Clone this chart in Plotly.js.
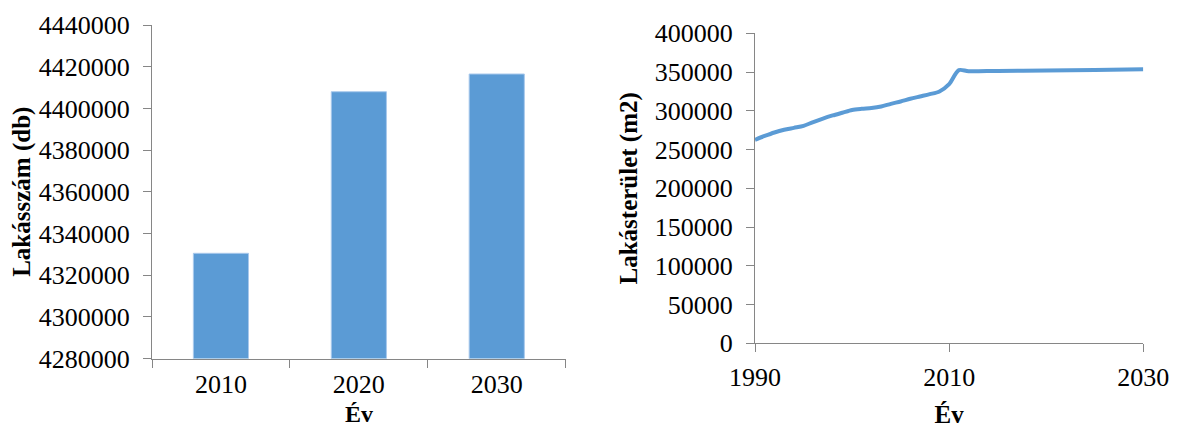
<!DOCTYPE html>
<html>
<head>
<meta charset="utf-8">
<script src="https://cdn.plot.ly/plotly-3.0.1.min.js"></script>
<style>html,body{margin:0;padding:0;background:#fff;}#chart{width:1178px;height:428px;}</style>
</head>
<body>
<div id="chart"></div>
<script>
// Left chart: number of dwellings
const barYears = ['2010', '2020', '2030'];
const barValues = [4330500, 4408000, 4416500];

// Right chart: dwelling floor area
const lineYears = [1990, 1991, 1992, 1993, 1994, 1995, 1996, 1997, 1998, 1999,
                   2000, 2001, 2002, 2003, 2004, 2005, 2006, 2007, 2008, 2009,
                   2010, 2011, 2012, 2015, 2020, 2025, 2030];
const lineValues = [262500, 267500, 272000, 275500, 278000, 280500, 285500, 290000, 294000, 297500,
                    301000, 302500, 303500, 305500, 309000, 312000, 315500, 318500, 321500, 325000,
                    334500, 352500, 351000, 351500, 352000, 352800, 353500];

const leftYTicks = [4280000, 4300000, 4320000, 4340000, 4360000, 4380000, 4400000, 4420000, 4440000];
const rightYTicks = [0, 50000, 100000, 150000, 200000, 250000, 300000, 350000, 400000];
const rightXTicks = [1990, 2010, 2030];

const leftXTitle = 'Év';
const leftYTitle = 'Lakásszám (db)';
const rightXTitle = 'Év';
const rightYTitle = 'Lakásterület (m2)';

const blue = '#5B9BD5';
const axisGrey = '#868686';
const serif = '"Liberation Serif", "Times New Roman", serif';
const tickFont = {family: serif, size: 26, color: '#000'};
const titleFont = {family: serif, size: 25, color: '#000', weight: 'bold'};

const traces = [
  {type: 'bar', x: barYears, y: barValues, xaxis: 'x', yaxis: 'y',
   marker: {color: blue, line: {color: '#A9C9EC', width: 1}}, hoverinfo: 'x+y'},
  {type: 'scatter', mode: 'lines', x: lineYears, y: lineValues, xaxis: 'x2', yaxis: 'y2',
   line: {color: blue, width: 4, shape: 'spline', smoothing: 0.8}}
];

const leftDomX = [152/1178, 565.7/1178];
const leftDomY = [(428-358.6)/428, (428-25)/428];

const layout = {
  width: 1178, height: 428,
  margin: {l: 0, r: 0, t: 0, b: 0},
  paper_bgcolor: '#fff', plot_bgcolor: '#fff',
  showlegend: false,
  bargap: 0.6,
  font: {family: serif, color: '#000'},
  xaxis: {
    domain: leftDomX, anchor: 'y', type: 'category',
    showline: true, linecolor: axisGrey, linewidth: 1,
    ticks: 'outside', tickson: 'boundaries', ticklen: 8, tickcolor: axisGrey,
    tickfont: tickFont, showgrid: false, zeroline: false, ticklabelstandoff: 2
  },
  yaxis: {
    domain: leftDomY, anchor: 'x',
    range: [4280000, 4440000], tickvals: leftYTicks, ticktext: leftYTicks.map(String),
    showline: true, linecolor: axisGrey, linewidth: 1,
    ticks: 'outside', ticklen: 8, tickcolor: axisGrey,
    tickfont: tickFont, showgrid: false, zeroline: false, ticklabelstandoff: 8
  },
  xaxis2: {
    domain: [755/1178, 1143.3/1178], anchor: 'y2',
    range: [1990, 2030], tickvals: rightXTicks, ticktext: rightXTicks.map(String),
    showline: true, linecolor: axisGrey, linewidth: 1,
    ticks: 'outside', ticklen: 8, tickcolor: axisGrey,
    tickfont: tickFont, showgrid: false, zeroline: false, ticklabelstandoff: 2,
    title: {text: rightXTitle, font: titleFont, standoff: 14}
  },
  yaxis2: {
    domain: [(428-343.3)/428, (428-33.3)/428], anchor: 'x2',
    range: [0, 400000], tickvals: rightYTicks, ticktext: rightYTicks.map(String),
    showline: true, linecolor: axisGrey, linewidth: 1,
    ticks: 'outside', ticklen: 8, tickcolor: axisGrey,
    tickfont: tickFont, showgrid: false, zeroline: false, ticklabelstandoff: 8,
    title: {text: rightYTitle, font: titleFont, standoff: 10}
  },
  annotations: [
    {xref: 'paper', yref: 'paper', x: (leftDomX[0] + leftDomX[1]) / 2, y: 0,
     xanchor: 'center', yanchor: 'bottom', text: leftXTitle, showarrow: false,
     font: {family: serif, size: 24, color: '#000', weight: 'bold'}, borderpad: 0},
    {xref: 'paper', yref: 'paper', x: 22/1178, y: (leftDomY[0] + leftDomY[1]) / 2,
     xanchor: 'center', yanchor: 'middle', textangle: -90, text: leftYTitle, showarrow: false, font: titleFont}
  ]
};

Plotly.newPlot('chart', traces, layout, {staticPlot: true, displayModeBar: false});
</script>
</body>
</html>
